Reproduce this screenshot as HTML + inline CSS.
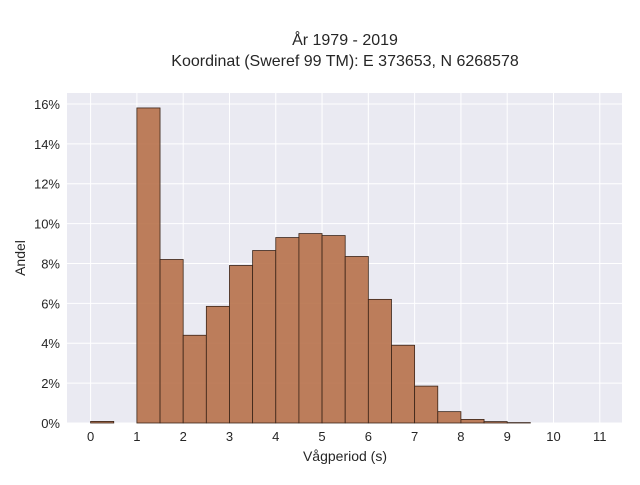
<!DOCTYPE html>
<html><head><meta charset="utf-8"><style>
body{margin:0;background:#fff;font-family:"Liberation Sans",sans-serif}
svg text{font-family:"Liberation Sans",sans-serif;fill:#262626}
</style></head><body>
<svg id="chart" width="640" height="480">
<text x="345" y="45" text-anchor="middle" font-size="16">År 1979 - 2019</text>
<text x="345" y="66" text-anchor="middle" font-size="16">Koordinat (Sweref 99 TM): E 373653, N 6268578</text>
<rect x="67" y="93" width="555" height="330" fill="#eaeaf2"/>
<g id="grid"></g><g id="bars"></g><g id="xt"></g><g id="yt"></g>
<text x="345" y="461" text-anchor="middle" font-size="14">Vågperiod (s)</text>
<text transform="translate(25,258) rotate(-90)" text-anchor="middle" font-size="14">Andel</text>
</svg>
<script>
const binStarts=[0,1,1.5,2,2.5,3,3.5,4,4.5,5,5.5,6,6.5,7,7.5,8,8.5,9];
const shares=[0.08,15.8,8.2,4.4,5.85,7.9,8.65,9.3,9.5,9.4,8.35,6.2,3.9,1.85,0.57,0.18,0.07,0.02];
const binWidth=0.5;
const xTicks=[0,1,2,3,4,5,6,7,8,9,10,11];
const yTicks=[0,2,4,6,8,10,12,14,16];
const L=67,R=622,T=93,B=423,x0=-0.51,x1=11.48,y1=16.55;
const X=v=>L+(v-x0)/(x1-x0)*(R-L);
const Y=v=>B-v/y1*(B-T);
const NS="http://www.w3.org/2000/svg";
function mk(t,a,p){const e=document.createElementNS(NS,t);for(const k in a)e.setAttribute(k,a[k]);p.appendChild(e);return e;}
const g=document.getElementById('grid'),bg=document.getElementById('bars'),xt=document.getElementById('xt'),yt=document.getElementById('yt');
xTicks.forEach(v=>{
 const l=mk('line',{x1:X(v),x2:X(v),y1:T,y2:B,stroke:'#fff','stroke-width':1},g);
 
 
 const t=mk('text',{x:X(v),y:B+18,'text-anchor':'middle','font-size':13},xt);t.textContent=v;
 
 
});
yTicks.forEach(v=>{
 const l=mk('line',{x1:L,x2:R,y1:Y(v),y2:Y(v),stroke:'#fff','stroke-width':1},g);
 
 
 const t=mk('text',{x:L-7,y:Y(v)+5,'text-anchor':'end','font-size':13},yt);t.textContent=v+'%';
 
 
});
binStarts.forEach((s,i)=>{
 const r=mk('rect',{x:X(s),y:Y(shares[i]),width:X(s+binWidth)-X(s),height:B-Y(shares[i]),fill:'#b7714a','fill-opacity':0.9,stroke:'#3a2418','stroke-width':0.8},bg);
 
 
});
</script>
</body></html>
